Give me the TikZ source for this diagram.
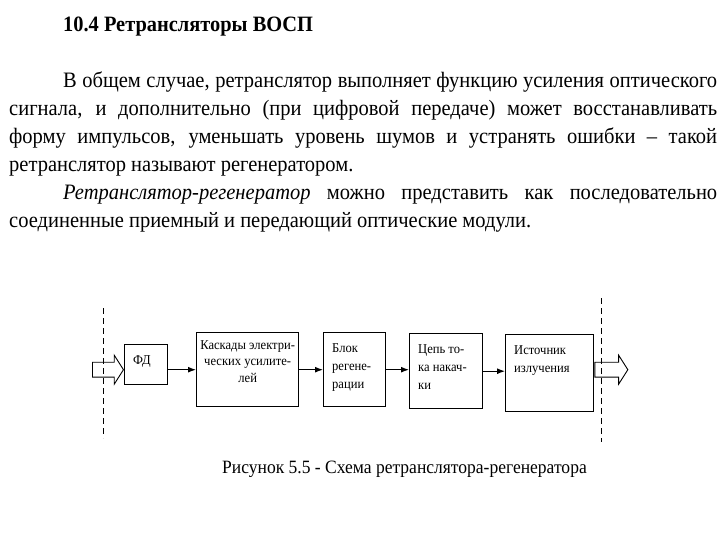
\documentclass[tikz,border=0pt]{standalone}
\usepackage{fontspec}
\setmainfont{Liberation Serif}[FakeStretch=0.932]
\usetikzlibrary{arrows.meta,positioning,shapes.arrows}
\tikzset{body/.style={anchor=base west,inner sep=0pt,font=\fontsize{22}{28}\selectfont}, box/.style={draw,line width=1.4pt,inner sep=0pt}, boxtext/.style={inner sep=0pt,align=left,font=\fontsize{13.5}{18}\selectfont}, flow/.style={-{Latex[length=8pt,width=6pt]},line width=1.2pt}, hollow/.style={draw,line width=0.9pt,shape=single arrow,inner xsep=0pt,inner ysep=7pt,minimum height=31pt,single arrow head extend=7pt,single arrow tip angle=115}, cut/.style={dash pattern=on 6pt off 4pt,line width=0.7pt}}

\begin{document}
\begin{tikzpicture}[x=1pt,y=-1pt]
\useasboundingbox (0,0) rectangle (720,540);
\node[anchor=base west,inner sep=0pt,font=\fontsize{21.9}{24}\selectfont\bfseries] (title) at (63,31.7) {10.4 Ретрансляторы ВОСП};
\node[body] (l1) at (63,87.5) {\makebox[654pt][s]{В общем случае, ретранслятор выполняет функцию усиления оптического}};
\node[body] (l2) at (9,115.6) {\makebox[708pt][s]{сигнала, и дополнительно (при цифровой передаче) может восстанавливать}};
\node[body] (l3) at (9,143.7) {\makebox[708pt][s]{форму импульсов, уменьшать уровень шумов и устранять ошибки – такой}};
\node[body] (l4) at (9,171.8) {ретранслятор называют регенератором.};
\node[body] (l5) at (63,199.9) {\makebox[654pt][s]{\textit{Ретранслятор-регенератор} можно представить как последовательно}};
\node[body] (l6) at (9,228) {соединенные приемный и передающий оптические модули.};
% blocks
\node[box,anchor=north west,minimum width=43pt,minimum height=40pt] (fd) at (124,344) {};
\node[box,anchor=north west,minimum width=102pt,minimum height=74pt] (kask) at (196,332) {};
\node[box,anchor=north west,minimum width=62pt,minimum height=74pt] (blok) at (323,332) {};
\node[box,anchor=north west,minimum width=73pt,minimum height=75pt] (cep) at (409,333) {};
\node[box,anchor=north west,minimum width=88pt,minimum height=77pt] (ist) at (505,334) {};
\node[boxtext,below right=11pt and 9pt of fd.north west] (fdt) {ФД};
\node[boxtext,align=center,font=\fontsize{13.5}{16.5}\selectfont,below=8pt of kask.north] (kaskt) {Каскады электри-\\ческих усилите-\\лей};
\node[boxtext,below right=11pt and 9pt of blok.north west] (blokt) {Блок\\регене-\\рации};
\node[boxtext,below right=11pt and 9pt of cep.north west] (cept) {Цепь то-\\ка накач-\\ки};
\node[boxtext,below right=11pt and 9pt of ist.north west] (istt) {Источник\\излучения};
\draw[flow] (fd.east |- kask.west) -- (kask.west);
\draw[flow] (kask.east) -- (kask.east -| blok.west);
\draw[flow] (blok.east) -- (blok.east -| cep.west);
\draw[flow] (cep.east) -- (cep.east -| ist.west);
% optical in / out
\node[hollow,anchor=tip] (vhod) at (fd.west |- kask.west) {};
\node[hollow,anchor=tail,minimum height=33pt] (vyhod) at (ist.east |- kask.west) {};
\draw[cut] (103,308) -- (103,438);
\draw[cut] (601,298) -- (601,442);
\node[anchor=base west,inner sep=0pt,font=\fontsize{18.8}{22}\selectfont] (cap) at (222,473.3) {Рисунок 5.5 - Схема ретранслятора-регенератора};
\end{tikzpicture}
\end{document}
